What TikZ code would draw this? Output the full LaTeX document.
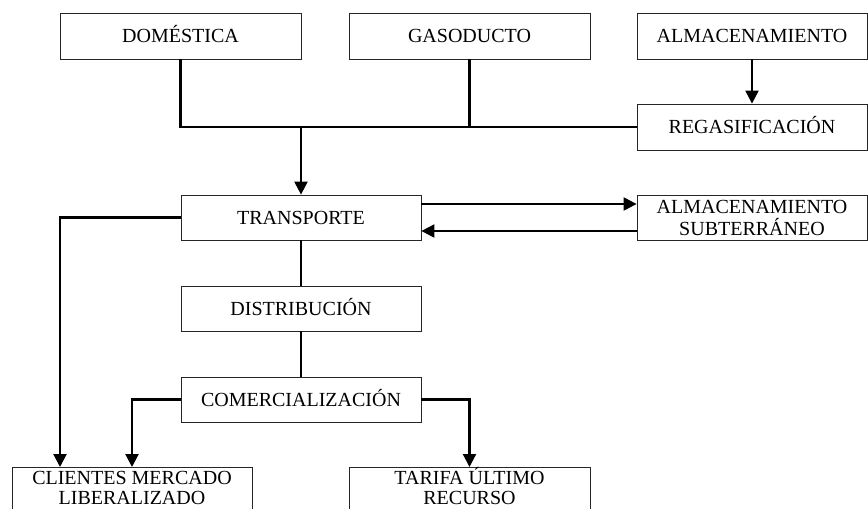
\documentclass[tikz,border=0pt]{standalone}
\usepackage{fontspec}
\setmainfont{Liberation Serif}
\usetikzlibrary{arrows.meta}
\begin{document}
\begin{tikzpicture}[x=1pt,y=-1pt,
  box/.style={draw=black!85,line width=0.8pt,rectangle,inner sep=0pt,align=center,
    font=\fontsize{20}{22}\selectfont,text height=13.5pt,text depth=0pt},
  wbox/.style={box,minimum width=241pt,minimum height=46pt},
  rbox/.style={box,minimum width=230pt,minimum height=46pt},
  cbox/.style={box,minimum width=240pt,minimum height=45pt},
  bbox/.style={box,anchor=north,minimum width=240pt,inner ysep=3pt,text height=34pt,text depth=12pt,
    font=\fontsize{20}{20}\selectfont},
  conn/.style={line width=2.2pt},
  arr/.style={conn,-{Triangle[length=13pt,width=13pt]}}]
\clip (0,0) rectangle (868,509);
\fill[white] (0,0) rectangle (868,509);
\node[wbox] (dom) at (180.5,36) {DOMÉSTICA};
\node[wbox] (gas) at (469.5,36) {GASODUCTO};
\node[rbox] (alm) at (752,36) {ALMACENAMIENTO};
\node[rbox] (reg) at (752,127) {REGASIFICACIÓN};
\node[cbox] (tra) at (301,217.5) {TRANSPORTE};
\node[rbox,minimum height=45pt,text height=35.5pt] (sub) at (752,217.5) {ALMACENAMIENTO\\SUBTERRÁNEO};
\node[cbox] (dis) at (301,308.5) {DISTRIBUCIÓN};
\node[cbox] (com) at (301,399.5) {COMERCIALIZACIÓN};
\node[bbox] (cli) at (132,467) {CLIENTES MERCADO\\LIBERALIZADO};
\node[bbox,minimum width=241pt] (tar) at (469.5,467) {TARIFA ÚLTIMO\\RECURSO};
\draw[conn] (dom.south) |- (reg.west);
\draw[conn] (gas.south) -- (gas.south |- reg.west);
\draw[arr] (tra.north |- reg.west) -- (tra.north);
\draw[arr] (alm.south) -- (reg.north);
\draw[arr] ([yshift=13.5pt]tra.east) -- ([yshift=13.5pt]sub.west);
\draw[arr] ([yshift=-13.5pt]sub.west) -- ([yshift=-13.5pt]tra.east);
\draw[conn] (tra.south) -- (dis.north);
\draw[conn] (dis.south) -- (com.north);
\draw[arr] (tra.west) -| ([xshift=-72pt]cli.north);
\draw[arr] (com.west) -| (cli.north);
\draw[arr] (com.east) -| (tar.north);
\end{tikzpicture}
\end{document}
